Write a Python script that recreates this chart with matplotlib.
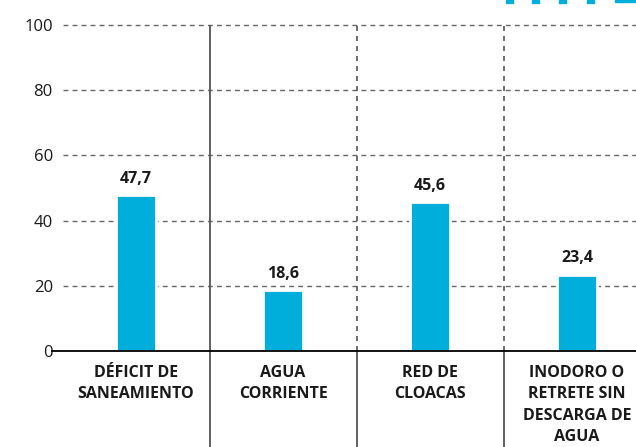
import matplotlib
matplotlib.use("Agg")
import matplotlib.pyplot as plt
from matplotlib.patches import Rectangle

categories = ["DÉFICIT DE\nSANEAMIENTO", "AGUA\nCORRIENTE", "RED DE\nCLOACAS",
              "INODORO O\nRETRETE SIN\nDESCARGA DE\nAGUA"]
values = [47.7, 18.6, 45.6, 23.4]
value_labels = ["47,7", "18,6", "45,6", "23,4"]
yticks = [0, 20, 40, 60, 80, 100]

BLUE = "#00aedb"
GRID = "#666666"
SEP = "#555555"
TXT = "#1a1a1a"

plt.rcParams["font.family"] = ["Open Sans", "DejaVu Sans"]

fig = plt.figure(figsize=(6.36, 4.47), dpi=100)
ax = fig.add_axes([62.5 / 636, 96 / 447, 588 / 636, 326 / 447])
ax.set_xlim(-0.5, 3.5)
ax.set_ylim(0, 100)
for s in ax.spines.values():
    s.set_visible(False)

# dashed gridlines
for t in yticks[1:]:
    ax.axhline(t, color=GRID, lw=1, ls=(0, (3.5, 3)), zorder=1, clip_on=False)

# zero line, a bit longer on the left
ax.axhline(0, xmin=-11 / 588, xmax=1, color="black", lw=1.3, zorder=4, clip_on=False)

# separators between categories
ax.vlines(0.5, -29.5, 100, color=SEP, lw=1.3, zorder=2, clip_on=False)
for x in [1.5, 2.5]:
    ax.vlines(x, 0, 100, color=SEP, lw=1.2, ls=(0, (3, 3)), zorder=2, clip_on=False)
    ax.vlines(x, -29.5, 0, color=SEP, lw=1.3, zorder=2, clip_on=False)

xs = range(len(values))
ax.bar(xs, values, width=0.27, color=BLUE, edgecolor="white", linewidth=2, zorder=3)
for x, v, lab in zip(xs, values, value_labels):
    ax.annotate(lab, (x, v), xytext=(0, 6), textcoords="offset points",
                ha="center", va="bottom", fontsize=11.5, fontweight="bold", color=TXT)

ax.set_yticks(yticks)
ax.set_yticklabels([str(t) for t in yticks], fontsize=12, color=TXT)
ax.tick_params(axis="y", length=0, pad=7)
ax.set_xticks(list(xs))
ax.set_xticklabels(categories, fontsize=11.5, fontweight="bold", color=TXT, linespacing=1.45)
ax.tick_params(axis="x", length=0, pad=10)

# clipped bits of the legend at the top right
fig.patches.append(Rectangle((615 / 636, 445 / 447), 21 / 636, 2 / 447,
                             transform=fig.transFigure, color=BLUE))
for px in [506, 532, 559, 587]:
    for dx in [0, 4]:
        fig.patches.append(Rectangle(((px + dx) / 636, 444.5 / 447), 2.5 / 636, 2.5 / 447,
                                     transform=fig.transFigure, color=BLUE))

fig.savefig("out.png", dpi=100)
